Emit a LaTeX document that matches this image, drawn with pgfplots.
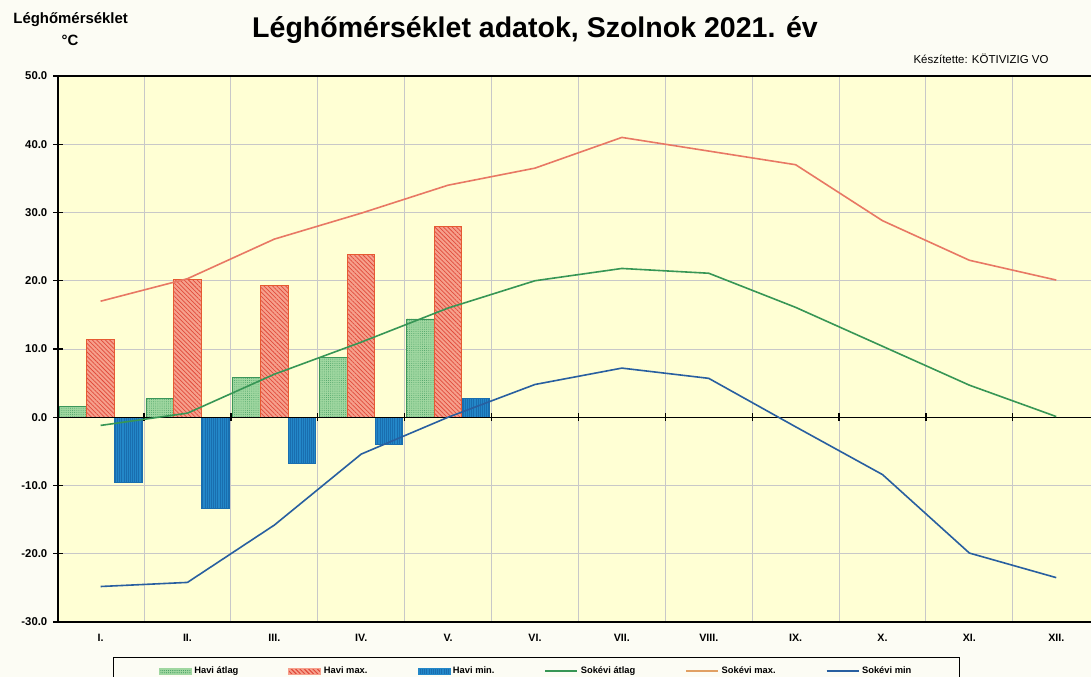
\documentclass[border=0pt]{standalone}
\usepackage{pgfplots}
\pgfplotsset{compat=1.18}
\usetikzlibrary{patterns.meta}
\usepackage{fontspec}
\setmainfont{Liberation Sans}
\definecolor{pagebg}{RGB}{252,252,244}
\definecolor{plotbg}{RGB}{255,255,212}
\definecolor{gridc}{RGB}{200,200,200}
\definecolor{gbarfill}{RGB}{160,215,160}
\definecolor{gbarpat}{RGB}{70,160,100}
\definecolor{gbaredge}{RGB}{60,150,90}
\definecolor{rbarfill}{RGB}{246,160,140}
\definecolor{rbarpat}{RGB}{225,75,60}
\definecolor{rbaredge}{RGB}{230,90,50}
\definecolor{bbarfill}{RGB}{35,135,200}
\definecolor{bbarpat}{RGB}{25,110,175}
\definecolor{lgreen}{RGB}{55,150,85}
\definecolor{lred}{RGB}{232,120,100}
\definecolor{lorange}{RGB}{225,160,100}
\definecolor{lblue}{RGB}{40,95,160}
\begin{document}
\begin{tikzpicture}
\fill[pagebg] (0pt,0pt) rectangle (818.25pt,507.75pt);
\useasboundingbox (0pt,0pt) rectangle (818.25pt,507.75pt);
\node[font=\bfseries\fontsize{21.4}{24}\selectfont] at (401.25pt,485.5pt) {Léghőmérséklet adatok, Szolnok 2021. év};
\node[font=\bfseries\fontsize{11.2}{12}\selectfont] at (53pt,493pt) {Léghőmérséklet};
\node[font=\bfseries\fontsize{11.2}{12}\selectfont] at (52.5pt,477.5pt) {°C};
\node[font=\fontsize{8.6}{10}\selectfont] at (735.75pt,463.5pt) {Készítette: KÖTIVIZIG VO};
\begin{axis}[
  at={(43.5pt,41.25pt)}, anchor=south west,
  width=774.75pt, height=409.5pt, scale only axis,
  xmin=-0.49, xmax=11.4, ymin=-30, ymax=50,
  axis background/.style={fill=plotbg},
  axis line style={draw=none},
  clip=false,
  xtick={0,...,11},
  xticklabels={I.,II.,III.,IV.,V.,VI.,VII.,VIII.,IX.,X.,XI.,XII.},
  minor xtick={0.5,1.5,...,10.5},
  xminorgrids, ymajorgrids,
  minor grid style={gridc, line width=0.7pt},
  major grid style={gridc, line width=0.7pt},
  xtick style={draw=none},
  ytick={-30,-20,...,50},
  ytick pos=left,
  xtick pos=bottom,
  ytick style={black, line width=1pt},
  tick align=center,
  major tick length=7pt,
  /pgf/number format/assume math mode=true,
  yticklabel={\pgfmathprintnumber[fixed,fixed zerofill,precision=1]{\tick}},
  yticklabel style={font=\bfseries\fontsize{8.5}{10}\selectfont, xshift=-1pt},
  xticklabel style={font=\bfseries\fontsize{8}{10}\selectfont, yshift=-2pt},
  legend style={at={(0.0532,-0.0641)}, anchor=north west, draw=black, line width=0.9pt,
    fill=pagebg, font=\bfseries\fontsize{7}{8}\selectfont,
    inner xsep=34pt, inner ysep=5pt,
    /tikz/every even column/.append style={column sep=35.5pt}},
  legend columns=6,
  legend cell align=left,
]
% Havi atlag (green bars)
\addplot[ybar, bar width=0.315, bar shift=-0.32, draw=gbaredge, line width=0.6pt, fill=gbarfill,
  postaction={pattern={Dots[distance=1.6pt, radius=0.35pt]}, pattern color=gbarpat},
  area legend, legend image code/.code={\fill[gbarfill,postaction={pattern={Dots[distance=1.6pt, radius=0.35pt]}, pattern color=gbarpat}] (0pt,-2.5pt) rectangle (24pt,2.5pt);}]
  coordinates {(0,1.6) (1,2.7) (2,5.8) (3,8.8) (4,14.4)};
\addlegendentry{Havi átlag}
% Havi max (red bars)
\addplot[ybar, bar width=0.315, bar shift=0, draw=rbaredge, line width=0.6pt, fill=rbarfill,
  postaction={pattern={Lines[angle=-45, distance=2.3pt, line width=0.55pt]}, pattern color=rbarpat},
  area legend, legend image code/.code={\fill[rbarfill,postaction={pattern={Lines[angle=-45, distance=2.3pt, line width=0.55pt]}, pattern color=rbarpat}] (0pt,-2.5pt) rectangle (24pt,2.5pt);}]
  coordinates {(0,11.4) (1,20.2) (2,19.3) (3,23.8) (4,28.0)};
\addlegendentry{Havi max.}
% Havi min (blue bars)
\addplot[ybar, bar width=0.315, bar shift=0.32, draw=bbarpat, line width=0.6pt, fill=bbarfill,
  postaction={pattern={Lines[angle=90, distance=1.6pt, line width=0.3pt]}, pattern color=bbarpat},
  area legend, legend image code/.code={\fill[bbarfill] (0pt,-2.5pt) rectangle (24pt,2.5pt);}]
  coordinates {(0,-9.6) (1,-13.3) (2,-6.7) (3,-4.0) (4,2.8)};
\addlegendentry{Havi min.}
% zero line with ticks
\draw[black, line width=1.1pt] (axis cs:-0.49,0) -- (axis cs:11.4,0);
\pgfplotsinvokeforeach{0.5,1.5,...,10.5}{\draw[black, line width=1pt] (axis cs:#1,-0.55) -- (axis cs:#1,0.55);}
% Sokevi atlag
\addplot[lgreen, line width=1.2pt, mark=none, legend image code/.code={\draw[lgreen,line width=1.3pt] (0pt,0pt) -- (24pt,0pt);}]
  coordinates {(0,-1.2) (1,0.6) (2,6.3) (3,11.0) (4,16.0) (5,20.0) (6,21.8) (7,21.1) (8,16.1) (9,10.4) (10,4.7) (11,0.1)};
\addlegendentry{Sokévi átlag}
% Sokevi max
\addplot[lred, line width=1.2pt, mark=none, legend image code/.code={\draw[lorange,line width=1.3pt] (0pt,0pt) -- (24pt,0pt);}]
  coordinates {(0,17.0) (1,20.3) (2,26.1) (3,29.9) (4,34.0) (5,36.5) (6,41.0) (7,39.0) (8,37.0) (9,28.8) (10,23.0) (11,20.1)};
\addlegendentry{Sokévi max.}
% Sokevi min
\addplot[lblue, line width=1.2pt, mark=none, legend image code/.code={\draw[lblue,line width=1.3pt] (0pt,0pt) -- (24pt,0pt);}]
  coordinates {(0,-24.8) (1,-24.2) (2,-15.8) (3,-5.4) (4,0.0) (5,4.8) (6,7.2) (7,5.7) (8,-1.4) (9,-8.4) (10,-19.9) (11,-23.5)};
\addlegendentry{Sokévi min}
% frame
\draw[black, line width=1.6pt] (rel axis cs:1,0) -- (rel axis cs:0,0) -- (rel axis cs:0,1);
\draw[black, line width=1.2pt] (rel axis cs:0,1) -- (rel axis cs:1,1);
\end{axis}
\end{tikzpicture}
\end{document}
